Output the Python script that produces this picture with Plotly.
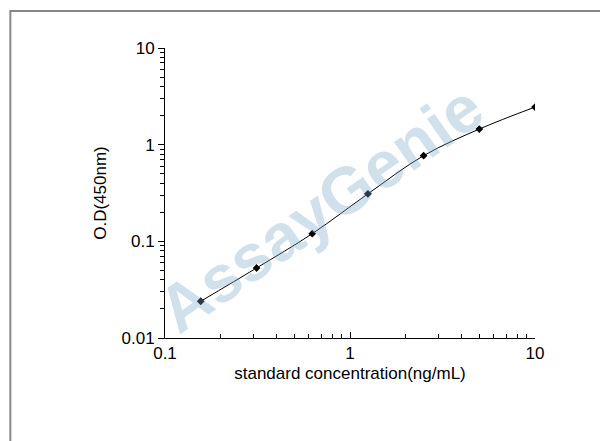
import plotly.graph_objects as go

conc = [0.156, 0.3125, 0.625, 1.25, 2.5, 5, 10]
od = [0.024, 0.053, 0.12, 0.31, 0.77, 1.45, 2.45]
xticks = [0.1, 1, 10]
xlabels = ["0.1", "1", "10"]
yticks = [0.01, 0.1, 1, 10]
ylabels = ["0.01", "0.1", "1", "10"]
xminor = [m * d for d in [0.1, 1] for m in range(2, 10)]
yminor = [m * d for d in [0.01, 0.1, 1] for m in range(2, 10)]

fig = go.Figure()
fig.add_trace(go.Scatter(x=conc, y=od, mode="lines+markers",
    line=dict(color="black", width=1, shape="spline"),
    marker=dict(color="black", size=6, symbol="diamond")))
font = dict(family="Liberation Sans, Arial", size=17, color="black")
fig.update_xaxes(type="log", range=[-1, 1], tickvals=xticks, ticktext=xlabels,
    showline=True, linecolor="black", showgrid=False, ticks="inside", ticklen=6, tickcolor="black",
    minor=dict(tickmode="array", tickvals=xminor, ticks="inside", ticklen=4, tickcolor="black", showgrid=False),
    tickfont=font, title=dict(text="standard concentration(ng/mL)", font=font, standoff=4))
fig.update_yaxes(type="log", range=[-2, 1], tickvals=yticks, ticktext=ylabels,
    showline=True, linecolor="black", showgrid=False, ticks="outside", ticklen=6, tickcolor="black",
    minor=dict(tickmode="array", tickvals=yminor, ticks="outside", ticklen=4, tickcolor="black", showgrid=False),
    tickfont=font, title=dict(text="O.D(450nm)", font=font, standoff=10))
fig.add_annotation(x=0.42, y=0.45, xref="paper", yref="paper", text="<b>AssayGenie</b>",
    showarrow=False, textangle=-35, font=dict(family="Liberation Sans", size=66, color="rgba(120,170,200,0.35)"))
fig.add_shape(type="rect", xref="paper", yref="paper", x0=-0.418, y0=-0.365, x1=1.212, y1=1.128,
    line=dict(color="#888", width=2))
fig.update_layout(width=608, height=441, margin=dict(l=157, r=81, t=40, b=111),
    plot_bgcolor="white", paper_bgcolor="white", showlegend=False)
fig.write_html("out.html")
